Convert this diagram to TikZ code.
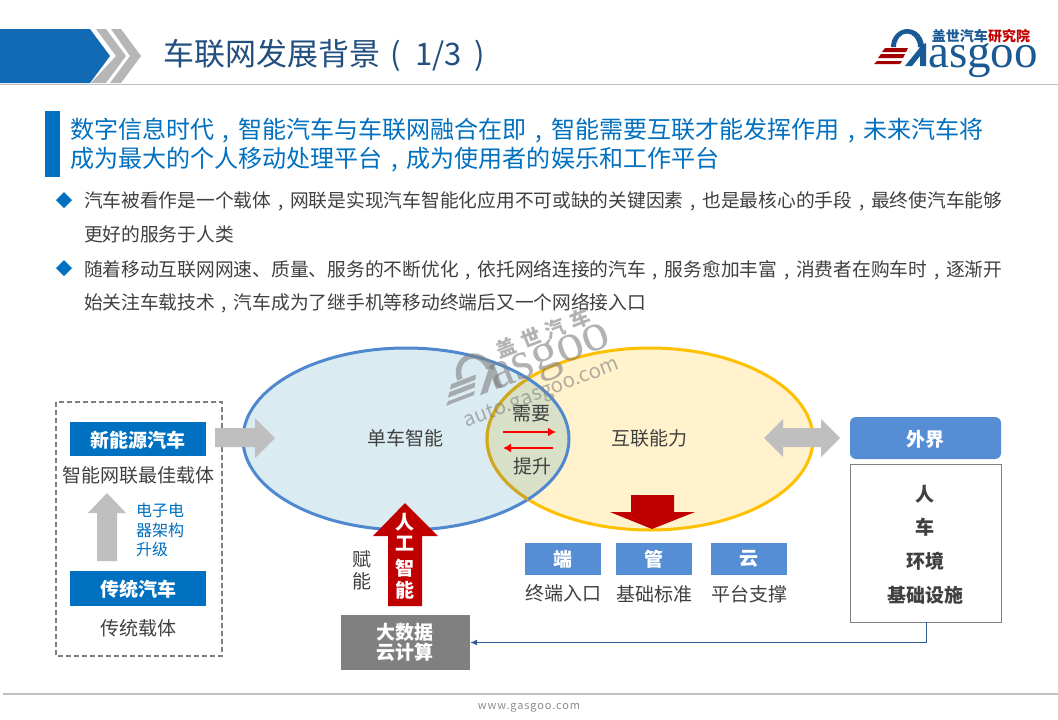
\documentclass[tikz,border=0pt]{standalone}
\usepackage{fontspec}
\setmainfont{Noto Sans CJK SC}
\newfontfamily\logoserif{Liberation Serif}
\newfontfamily\sitefont[LetterSpace=8]{Noto Sans CJK SC}
\usetikzlibrary{arrows.meta}
\definecolor{hdrblue}{HTML}{136AB4}
\definecolor{titleblue}{HTML}{234F80}
\definecolor{mainblue}{HTML}{0070C0}
\definecolor{softblue}{HTML}{558ED5}
\definecolor{txtgray}{HTML}{404040}
\definecolor{arrowgray}{HTML}{BFBFBF}
\definecolor{darkred}{HTML}{C00000}
\definecolor{fillblue}{HTML}{DAEBF1}
\definecolor{fillyellow}{HTML}{FFF2CC}
\definecolor{filloverlap}{HTML}{D8E0C8}
\definecolor{ringblue}{HTML}{4F88CF}
\definecolor{ringyellow}{HTML}{FFC000}
\definecolor{ringmix}{HTML}{CBA825}
\definecolor{logoblue}{HTML}{1A5A94}
\definecolor{linkblue}{HTML}{2F5C92}
\definecolor{wmgray}{HTML}{808080}
\newcommand\cnc{\makebox[1em][c]{,}}
% G mark of the logo, local origin at (905,50) of the page logo
\newcommand\gmark[2]{%
  \fill[#1] (-14,-3) arc[start angle=180,end angle=-5,x radius=16.5pt,y radius=18pt]
    -- (13,-3) arc[start angle=0,end angle=180,x radius=11pt,y radius=13.5pt] -- cycle;
  \fill[#1] (0,16) -- (7,16) -- (15,6) -- (15,16) -- (21,16) -- (21,-7) -- (17,-5) -- cycle;
  \fill[#2] (-20,-2) -- (3,-2) -- (1,2) -- (-23,2) -- cycle;
  \fill[#2] (-24,4) -- (0,4) -- (-2,8) -- (-27,8) -- cycle;
  \fill[#2] (-28,11) -- (-3,11) -- (-5,14) -- (-31,14) -- cycle;
}
\tikzset{
  lbl/.style={inner sep=0pt,outer sep=0pt,text=txtgray,font=\fontsize{#1}{#1}\selectfont},
  lbl/.default=19pt,
  wbold/.style={inner sep=0pt,outer sep=0pt,text=white,font=\fontsize{#1}{#1}\selectfont\bfseries},
  wbold/.default=19pt,
  gbold/.style={inner sep=0pt,outer sep=0pt,text=txtgray,font=\fontsize{19pt}{19pt}\selectfont\bfseries},
  bullettext/.style={inner sep=0pt,outer sep=0pt,anchor=west,text=txtgray,font=\fontsize{18.74pt}{18.74pt}\selectfont},
  headtext/.style={inner sep=0pt,outer sep=0pt,anchor=west,text=mainblue,font=\fontsize{24.05pt}{24.05pt}\selectfont},
  bluetag/.style={fill=mainblue,draw=none,inner sep=0pt,minimum width=136pt,minimum height=34.5pt},
  softtag/.style={fill=softblue,draw=none,inner sep=0pt,minimum width=76pt,minimum height=32pt},
  diamondmark/.style={fill=mainblue,draw=none},
  wm/.style={inner sep=0pt,rotate=21,text=wmgray,opacity=.6},
  redarrow/.style={red,line width=2pt,-{Latex[length=8pt,width=9pt]}},
}
\begin{document}
\begin{tikzpicture}[x=1pt,y=-1pt]
\useasboundingbox (0,0) rectangle (1058,720);
\fill[white] (0,0) rectangle (1058,720);

% header
\fill[hdrblue] (0,29) -- (90,29) -- (110,56) -- (90,83) -- (0,83) -- cycle;
\fill[arrowgray!95!black] (96,29) -- (106,29) -- (126,56) -- (106,83) -- (91,83) -- (116,56) -- cycle;
\fill[arrowgray!95!black] (111,29) -- (121,29) -- (141,56) -- (121,83) -- (110,83) -- (130,56) -- cycle;
\draw[arrowgray,line width=1.5pt] (0,84.5) -- (1058,84.5);
\node[inner sep=0pt,anchor=west,text=titleblue,font=\fontsize{31pt}{31pt}\selectfont] (title) at (163,55) {车联网发展背景\makebox[1em][c]{(}\hspace{4pt}1/3\hspace{2pt}\makebox[1em][c]{)}};

% logo
\begin{scope}[shift={(905,50)}]
  \gmark{logoblue}{darkred!85!black}
\end{scope}
\node[inner sep=0pt,anchor=base,text=logoblue,font=\logoserif\fontsize{47pt}{47pt}\selectfont] (logotxt) at (983,67) {asgoo};
\node[inner sep=0pt,anchor=east,text=logoblue,font=\fontsize{14pt}{14pt}\selectfont\bfseries] (logocn) at (988,36) {盖世汽车};
\node[inner sep=0pt,anchor=west,text=darkred,font=\fontsize{14pt}{14pt}\selectfont\bfseries] (logorc) at (988,36) {研究院};

% heading
\fill[mainblue] (45,111) rectangle (60,177);
\node[headtext] (h1) at (70,131) {数字信息时代\cnc 智能汽车与车联网融合在即\cnc 智能需要互联才能发挥作用\cnc 未来汽车将};
\node[headtext] (h2) at (70,160) {成为最大的个人移动处理平台\cnc 成为使用者的娱乐和工作平台};

% bullets
\fill[diamondmark] (64,192) -- (72,200) -- (64,208) -- (56,200) -- cycle;
\node[bullettext] (b1) at (84,201) {汽车被看作是一个载体\cnc 网联是实现汽车智能化应用不可或缺的关键因素\cnc 也是最核心的手段\cnc 最终使汽车能够};
\node[bullettext] (b2) at (84,234) {更好的服务于人类};
\fill[diamondmark] (64,260) -- (72,268) -- (64,276) -- (56,268) -- cycle;
\node[bullettext] (b3) at (84,270) {随着移动互联网网速、质量、服务的不断优化\cnc 依托网络连接的汽车\cnc 服务愈加丰富\cnc 消费者在购车时\cnc 逐渐开};
\node[bullettext] (b4) at (84,303) {始关注车载技术\cnc 汽车成为了继手机等移动终端后又一个网络接入口};

% ellipses
\fill[fillblue] (406,439) ellipse[x radius=163pt,y radius=91pt];
\fill[fillyellow] (650,439) ellipse[x radius=163pt,y radius=91pt];
\begin{scope}
  \clip (406,439) ellipse[x radius=163pt,y radius=91pt];
  \fill[filloverlap] (650,439) ellipse[x radius=163pt,y radius=91pt];
\end{scope}
\draw[ringyellow,line width=3pt] (650,439) ellipse[x radius=163pt,y radius=91pt];
\draw[ringblue,line width=3pt] (406,439) ellipse[x radius=163pt,y radius=91pt];
\begin{scope}
  \clip (406,439) ellipse[x radius=164.5pt,y radius=92.5pt];
  \clip (480,380) rectangle (528,500);
  \draw[ringmix,line width=3pt] (650,439) ellipse[x radius=163pt,y radius=91pt];
\end{scope}

% watermark
\node[wm,font=\fontsize{20.5pt}{20.5pt}\selectfont] (wm1) at (542,394) {auto.gasgoo.com};
\node[wm,font=\logoserif\fontsize{54pt}{54pt}\selectfont] (wm2) at (551,360) {asgoo};
\node[wm,font=\fontsize{20pt}{20pt}\selectfont\bfseries] (wm3) at (543,333) {盖\hspace{6.5pt}世\hspace{6.5pt}汽\hspace{6.5pt}车};
\begin{scope}[shift={(473.5,378)},rotate=21,scale=1.15,opacity=.6]
  \gmark{wmgray}{wmgray}
\end{scope}

% left panel
\draw[black!50!white,line width=1.6pt,dash pattern=on 5pt off 3pt] (56,402) rectangle (222,656);
\node[bluetag] (newcar) at (138,439) {};
\node[wbold] (newcart) at (138,440) {新能源汽车};
\node[lbl] (carrier) at (138,475) {智能网联最佳载体};
\fill[arrowgray] (107,493) -- (126,513) -- (117,513) -- (117,561) -- (97,561) -- (97,513) -- (88,513) -- cycle;
\node[inner sep=0pt,anchor=west,text=mainblue,font=\fontsize{16pt}{16pt}\selectfont] (up1) at (136,510) {电子电};
\node[inner sep=0pt,anchor=west,text=mainblue,font=\fontsize{16pt}{16pt}\selectfont] (up2) at (136,530) {器架构};
\node[inner sep=0pt,anchor=west,text=mainblue,font=\fontsize{16pt}{16pt}\selectfont] (up3) at (136,549) {升级};
\node[bluetag] (oldcar) at (138,588.5) {};
\node[wbold] (oldcart) at (138,589) {传统汽车};
\node[lbl] (oldcarrier) at (138,628) {传统载体};

% block arrows
\fill[arrowgray] (215,428) -- (255,428) -- (255,418) -- (275,438) -- (255,458) -- (255,447) -- (215,447) -- cycle;
\fill[arrowgray] (764,438) -- (783,419) -- (783,428) -- (821,428) -- (821,419) -- (840,438) -- (821,457) -- (821,447) -- (783,447) -- (783,457) -- cycle;
\fill[darkred] (405,503) -- (438,536) -- (422,536) -- (422,606) -- (388,606) -- (388,536) -- (373,536) -- cycle;
\fill[darkred] (631,495) -- (674,495) -- (674,512) -- (695,512) -- (652,529) -- (610,512) -- (631,512) -- cycle;

% ellipse labels
\node[lbl] (smart) at (405,438) {单车智能};
\node[lbl] (conn) at (649,438) {互联能力};
\node[lbl] (need) at (531,414) {需要};
\node[lbl] (lift) at (532,466) {提升};
\coordinate (rA) at (503,432);
\coordinate (rB) at (556,432);
\coordinate (lA) at (553,448);
\coordinate (lB) at (503,448);
\draw[redarrow] (rA) -- (rB);
\draw[redarrow] (lA) -- (lB);

% AI
\node[wbold] (ai1) at (405,522) {人};
\node[wbold] (ai2) at (405,544) {工};
\node[wbold] (ai3) at (405,568) {智};
\node[wbold] (ai4) at (405,590) {能};
\node[lbl] (fu) at (362,559) {赋};
\node[lbl] (neng) at (362,581) {能};
\node[fill=black!50!white,inner sep=0pt,minimum width=129pt,minimum height=55pt] (data) at (405.5,642.5) {};
\node[wbold] (data1) at (405,632) {大数据};
\node[wbold] (data2) at (405,652) {云计算};

% three tags
\node[softtag] (duan) at (562.5,559) {};
\node[wbold] at (562.5,559) (duant) {端};
\node[lbl] (duanl) at (563,593) {终端入口};
\node[softtag] (guan) at (654,559) {};
\node[wbold] at (654,559) (guant) {管};
\node[lbl] (guanl) at (654,594) {基础标准};
\node[softtag] (yun) at (749,559) {};
\node[wbold] at (749,559) (yunt) {云};
\node[lbl] (yunl) at (749,594) {平台支撑};

% outside
\node[fill=softblue,rounded corners=6pt,inner sep=0pt,minimum width=151pt,minimum height=42pt] (ext) at (925.5,438) {};
\node[wbold] (extt) at (925.5,439) {外界};
\node[draw=black!50!white,fill=white,line width=.8pt,inner sep=0pt,minimum width=151pt,minimum height=158pt] (box) at (926,543) {};
\node[gbold] (p1) at (925,494) {人};
\node[gbold] (p2) at (925,527) {车};
\node[gbold] (p3) at (925,561) {环境};
\node[gbold] (p4) at (925,595) {基础设施};
\draw[linkblue,line width=1pt,-{Latex[length=7pt,width=6pt]}] (box.south) |- (data.east);

% footer
\draw[arrowgray,line width=2pt] (3,694) -- (1058,694);
\node[inner sep=0pt,text=black!45!white,font=\sitefont\fontsize{11pt}{11pt}\selectfont] (site) at (529,708) {www.gasgoo.com};
\end{tikzpicture}
\end{document}
